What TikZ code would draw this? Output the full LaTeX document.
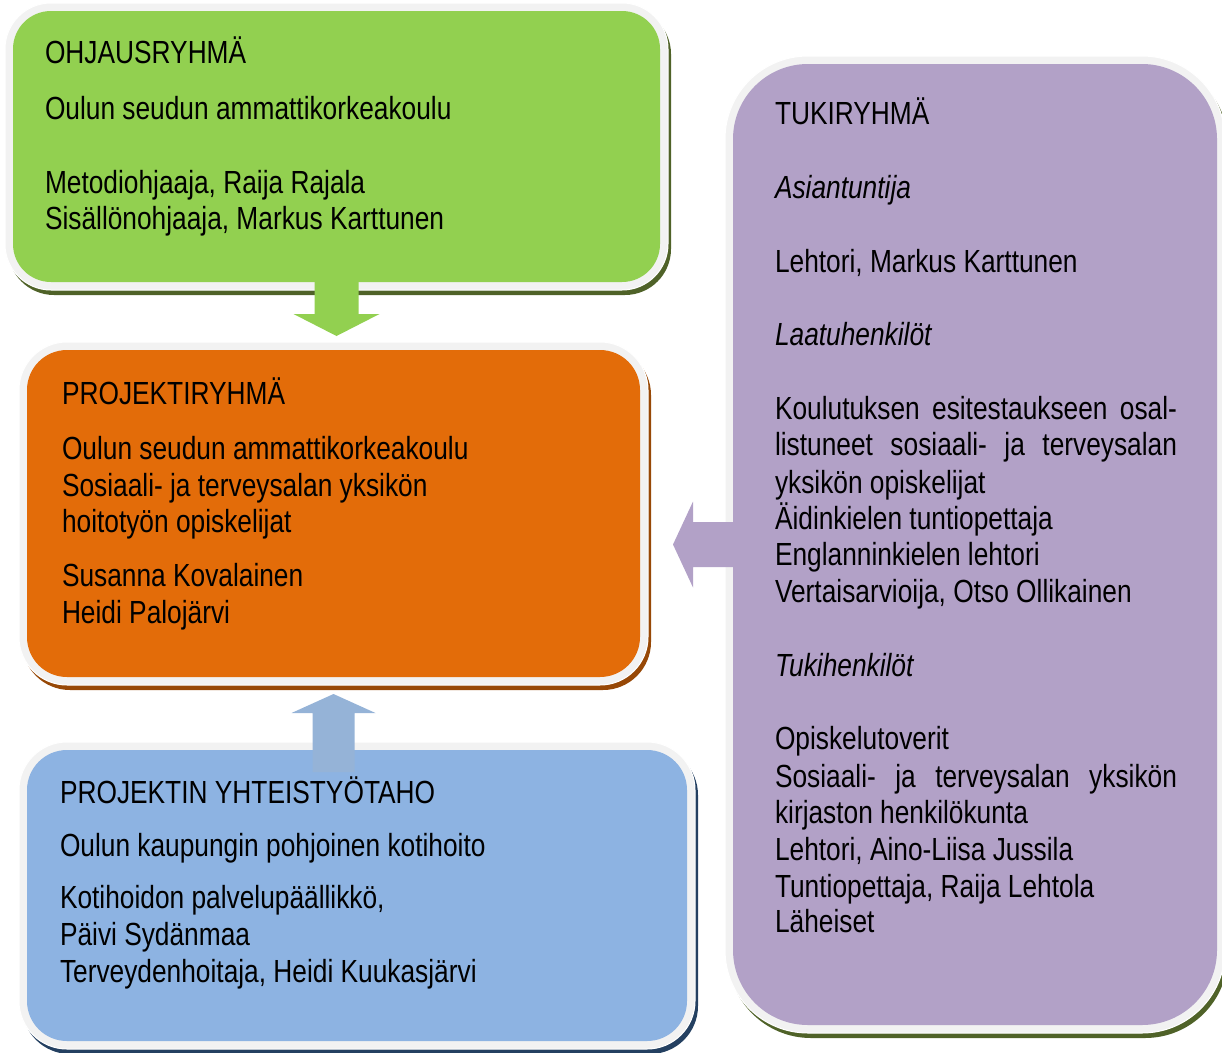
\documentclass[tikz,border=0pt]{standalone}
\usepackage{fontspec}
\setmainfont{Liberation Sans}[FakeStretch=0.822]
\usetikzlibrary{calc}
\definecolor{gfill}{HTML}{92D050}
\definecolor{ofill}{HTML}{E36C09}
\definecolor{bfill}{HTML}{8DB3E2}
\definecolor{pfill}{HTML}{B2A1C7}
\definecolor{gshad}{HTML}{4F6228}
\definecolor{oshad}{HTML}{974806}
\definecolor{bshad}{HTML}{244061}
\definecolor{rim}{HTML}{F2F2F2}
\definecolor{barrow}{HTML}{95B3D7}
\begin{document}
\begin{tikzpicture}[x=1pt,y=-1pt,
  layer/.style={rectangle, inner sep=0pt, outer sep=0pt},
  rimbox/.style={layer, fill=rim, draw=white, line width=1pt},
  txt/.style={anchor=base west, inner sep=0pt, outer sep=0pt, font=\fontsize{32}{37}\selectfont},
]
\useasboundingbox (0,0) rectangle (1222,1052);
% ---------- green box (OHJAUSRYHMÄ)
\node[layer, fill=gshad, minimum width=663pt, minimum height=287pt, rounded corners=46pt] (gS) at (339.5,151.5) {};
\node[rimbox, minimum width=663pt, minimum height=287pt, rounded corners=46pt] (gR) at (336.5,146.5) {};
\node[layer, fill=gfill, minimum width=647pt, minimum height=271pt, rounded corners=38pt] (g) at (336.5,146.5) {};
% ---------- orange box (PROJEKTIRYHMÄ)
\node[layer, fill=oshad, minimum width=629pt, minimum height=343pt, rounded corners=48pt] (oS) at (336.5,518.5) {};
\node[rimbox, minimum width=629pt, minimum height=343pt, rounded corners=48pt] (oR) at (333.5,513.5) {};
\node[layer, fill=ofill, minimum width=613pt, minimum height=327pt, rounded corners=40pt] (o) at (333.5,513.5) {};
% ---------- blue box
\node[layer, fill=bshad, minimum width=676pt, minimum height=307pt, rounded corners=48pt] (bS) at (360,900.5) {};
\node[rimbox, minimum width=676pt, minimum height=307pt, rounded corners=48pt] (bR) at (357,895.5) {};
\node[layer, fill=bfill, minimum width=660pt, minimum height=291pt, rounded corners=40pt] (b) at (357,895.5) {};
% ---------- purple box
\node[layer, fill=gshad, minimum width=500pt, minimum height=977pt, rounded corners=83pt] (pS) at (978,549.5) {};
\node[rimbox, minimum width=500pt, minimum height=977pt, rounded corners=83pt] (pR) at (975,544.5) {};
\node[layer, fill=pfill, minimum width=484pt, minimum height=961pt, rounded corners=75pt] (p) at (975,544.5) {};
% ---------- block arrows
\fill[gfill] ($(g.south)+(-22,-8)$) -- ($(g.south)+(22,-8)$) -- ($(g.south)+(22,32)$)
  -- ($(g.south)+(43,32)$) -- ($(g.south)+(0,54)$) -- ($(g.south)+(-43,32)$)
  -- ($(g.south)+(-22,32)$) -- cycle;
\fill[barrow] ($(o.south)+(-21,95)$) -- ($(o.south)+(21,95)$) -- ($(o.south)+(21,36)$)
  -- ($(o.south)+(42,36)$) -- ($(o.south)+(0,17)$) -- ($(o.south)+(-42,36)$)
  -- ($(o.south)+(-21,36)$) -- cycle;
\fill[pfill] ($(p.west)+(4,-22.5)$) -- ($(p.west)+(4,22.5)$) -- ($(p.west)+(-40,22.5)$)
  -- ($(p.west)+(-40,43)$) -- ($(p.west)+(-60,0)$) -- ($(p.west)+(-40,-43)$)
  -- ($(p.west)+(-40,-22.5)$) -- cycle;
% ---------- green text
\node[txt] (g1) at (45,63) {OHJAUSRYHMÄ};
\node[txt] (g2) at (45,119) {Oulun seudun ammattikorkeakoulu};
\node[txt] (g3) at (45,193) {Metodiohjaaja, Raija Rajala};
\node[txt] (g4) at (45,229) {Sisällönohjaaja, Markus Karttunen};
% ---------- orange text
\node[txt] (o1) at (62,404) {PROJEKTIRYHMÄ};
\node[txt] (o2) at (62,459) {Oulun seudun ammattikorkeakoulu};
\node[txt] (o3) at (62,496) {Sosiaali- ja terveysalan yksikön};
\node[txt] (o4) at (62,532) {hoitotyön opiskelijat};
\node[txt] (o5) at (62,586) {Susanna Kovalainen};
\node[txt] (o6) at (62,623) {Heidi Palojärvi};
% ---------- blue text
\node[txt] (b1) at (60,803) {PROJEKTIN YHTEISTYÖTAHO};
\node[txt] (b2) at (60,856) {Oulun kaupungin pohjoinen kotihoito};
\node[txt] (b3) at (60,908) {Kotihoidon palvelupäällikkö,};
\node[txt] (b4) at (60,945) {Päivi Sydänmaa};
\node[txt] (b5) at (60,982) {Terveydenhoitaja, Heidi Kuukasjärvi};
% ---------- purple text
\node[txt] (p1) at (775,124) {TUKIRYHMÄ};
\node[txt] (p2) at (775,198) {\itshape Asiantuntija};
\node[txt] (p3) at (775,272) {Lehtori, Markus Karttunen};
\node[txt] (p4) at (775,345) {\itshape Laatuhenkilöt};
\node[txt] (p5) at (775,419) {\makebox[402pt][s]{Koulutuksen esitestaukseen osal-}};
\node[txt] (p6) at (775,455) {\makebox[402pt][s]{listuneet sosiaali- ja terveysalan}};
\node[txt] (p7) at (775,493) {yksikön opiskelijat};
\node[txt] (p8) at (775,529) {Äidinkielen tuntiopettaja};
\node[txt] (p9) at (775,565) {Englanninkielen lehtori};
\node[txt] (p10) at (775,602) {Vertaisarvioija, Otso Ollikainen};
\node[txt] (p11) at (775,676) {\itshape Tukihenkilöt};
\node[txt] (p12) at (775,749) {Opiskelutoverit};
\node[txt] (p13) at (775,787) {\makebox[402pt][s]{Sosiaali- ja terveysalan yksikön}};
\node[txt] (p14) at (775,823) {kirjaston henkilökunta};
\node[txt] (p15) at (775,860) {Lehtori, Aino-Liisa Jussila};
\node[txt] (p16) at (775,897) {Tuntiopettaja, Raija Lehtola};
\node[txt] (p17) at (775,932) {Läheiset};
\end{tikzpicture}
\end{document}
